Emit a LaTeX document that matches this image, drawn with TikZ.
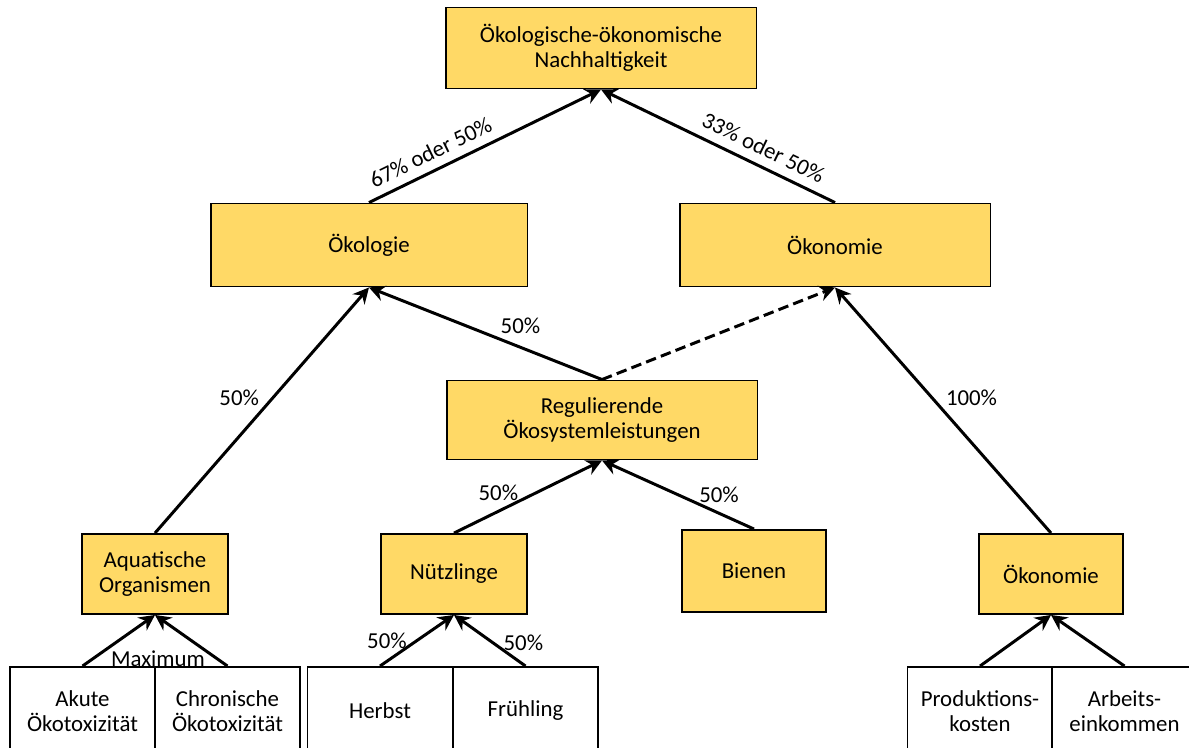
\documentclass[tikz,border=0pt]{standalone}
\usepackage{fontspec}
\setmainfont{Carlito}
\usepackage{tikz}
\usetikzlibrary{arrows.meta}
\definecolor{gold}{RGB}{255,217,102}
\tikzstyle{crit} = [rectangle, minimum width=6.22cm, minimum height=1.62cm, align=center, draw=black, line width=1.1pt, fill=gold]
\tikzstyle{subcrit} = [rectangle, minimum width=2.92cm, minimum height=1.6cm, align=center, draw=black, line width=1.1pt, fill=gold]
\tikzstyle{leaf} = [rectangle, minimum width=2.9cm, minimum height=1.76cm, align=center, draw=black, line width=1.1pt, fill=white]
\tikzstyle{arrow} = [line width=1.7pt,->,>={Stealth[length=9pt,width=9pt,inset=3pt]}]
\tikzstyle{lbl} = [font=\fontsize{13}{14.5}\selectfont, inner sep=2pt]

\begin{document}
\begin{tikzpicture}[x=0.02cm, y=-0.02cm, font=\fontsize{13}{14.5}\selectfont]
\useasboundingbox (0,0) rectangle (1189,747);
\clip (0,0) rectangle (1189,747);

% top level
\node (goal) [crit] at (601,48) {Ökologische-ökonomische\\Nachhaltigkeit};

% second level
\node (oekol) [crit, minimum width=6.34cm, minimum height=1.66cm] at (369,245) {Ökologie};
\node (oekon) [crit, minimum height=1.66cm] at (835,245) {Ökonomie};

% third level
\node (regul) [crit, minimum height=1.58cm] at (602,420) {Regulierende\\Ökosystemleistungen};

% fourth level
\node (aquat) [subcrit] at (155,574) {Aquatische\\Organismen};
\node (nuetz) [subcrit] at (454,574) {Nützlinge};
\node (bienen) [subcrit, minimum width=2.88cm, minimum height=1.64cm] at (754,571) {Bienen};
\node (oekonB) [subcrit, minimum width=2.88cm] at (1051,574) {Ökonomie};

% indicators
\node (akut) [leaf] at (82.5,711) {Akute\\Ökotoxizität};
\node (chron) [leaf] at (227.5,711) {Chronische\\Ökotoxizität};
\node (herbst) [leaf] at (380,711) {Herbst};
\node (fruehl) [leaf] at (525.5,711) {Frühling};
\node (prod) [leaf] at (980,711) {Produktions-\\kosten};
\node (arbeit) [leaf] at (1124.5,711) {Arbeits-\\einkommen};

\draw [arrow] (oekol.north) -- node[lbl, pos=0.3, sloped, above=3pt] {67\% oder 50\%} (goal.south);
\draw [arrow] (oekon.north) -- node[lbl, pos=0.34, sloped, above=3pt] {33\% oder 50\%} (goal.south);

\draw [arrow] (aquat.north) -- node[lbl, pos=0.55, left=5pt] {50\%} (oekol.south);
\draw [arrow] (regul.north) -- node[lbl, pos=0.35, above=5pt] {50\%} (oekol.south);
\draw [arrow, dash pattern=on 6pt off 3pt] (regul.north) -- (oekon.south);
\draw [arrow] (oekonB.north) -- node[lbl, pos=0.55, right=5pt] {100\%} (oekon.south);

\draw [arrow] (nuetz.north) -- node[lbl, pos=0.3, above=3pt] {50\%} (regul.south);
\draw [arrow] (bienen.north) -- node[lbl, pos=0.23, above=3pt] {50\%} (regul.south);

\draw [arrow] (akut.north) -- (aquat.south);
\draw [arrow] (chron.north) -- (aquat.south);
\node (maxlbl) [lbl] at (158,659) {Maximum};

\draw [arrow] (herbst.north) -- node[lbl, pos=0.5, left=3pt] {50\%} (nuetz.south);
\draw [arrow] (fruehl.north) -- node[lbl, pos=0.45, right=3pt] {50\%} (nuetz.south);

\draw [arrow] (prod.north) -- (oekonB.south);
\draw [arrow] (arbeit.north) -- (oekonB.south);

\end{tikzpicture}
\end{document}
